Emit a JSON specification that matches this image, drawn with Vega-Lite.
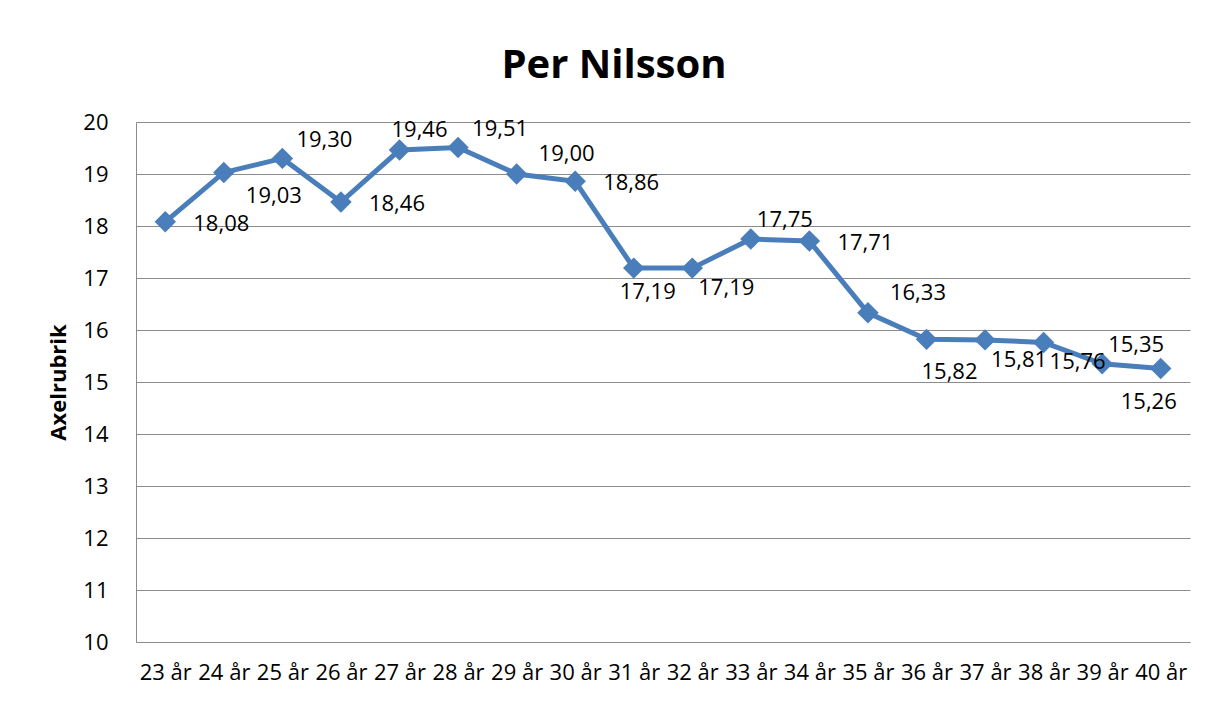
{
  "$schema": "https://vega.github.io/schema/vega-lite/v6.json",
  "width": 1054,
  "height": 520,
  "autosize": {"type": "none"},
  "padding": {"left": 136, "top": 122, "right": 18, "bottom": 60},
  "background": "white",
  "config": {
    "locale": {"number": {"decimal": ",", "thousands": " ", "grouping": [3], "currency": ["", " kr"]}},
    "view": {"stroke": null},
    "font": "Open Sans"
  },
  "title": {
    "text": "Per Nilsson",
    "font": "Open Sans",
    "fontSize": 40,
    "fontWeight": "bold",
    "color": "#000000",
    "anchor": "middle",
    "frame": "group",
    "dx": -49,
    "dy": 52,
    "baseline": "alphabetic",
    "offset": 45
  },
  "data": {
    "values": [
      {"age": "23 år", "value": 18.08},
      {"age": "24 år", "value": 19.03},
      {"age": "25 år", "value": 19.30},
      {"age": "26 år", "value": 18.46},
      {"age": "27 år", "value": 19.46},
      {"age": "28 år", "value": 19.51},
      {"age": "29 år", "value": 19.00},
      {"age": "30 år", "value": 18.86},
      {"age": "31 år", "value": 17.19},
      {"age": "32 år", "value": 17.19},
      {"age": "33 år", "value": 17.75},
      {"age": "34 år", "value": 17.71},
      {"age": "35 år", "value": 16.33},
      {"age": "36 år", "value": 15.82},
      {"age": "37 år", "value": 15.81},
      {"age": "38 år", "value": 15.76},
      {"age": "39 år", "value": 15.35},
      {"age": "40 år", "value": 15.26}
    ]
  },
  "encoding": {
    "x": {
      "field": "age",
      "type": "ordinal",
      "sort": null,
      "scale": {"type": "point", "padding": 0.5},
      "axis": {
        "title": null,
        "labelAngle": 0,
        "labelFont": "Open Sans",
        "labelFontSize": 22,
        "labelColor": "#000000",
        "ticks": false,
        "tickSize": 0,
        "domainColor": "#8c8c8c",
        "domainWidth": 1,
        "labelPadding": 20,
        "grid": false
      }
    },
    "y": {
      "field": "value",
      "type": "quantitative",
      "scale": {"domain": [10, 20], "nice": false, "zero": false},
      "axis": {
        "values": [10, 11, 12, 13, 14, 15, 16, 17, 18, 19, 20],
        "grid": true,
        "gridColor": "#8c8c8c",
        "gridWidth": 1,
        "domainColor": "#8c8c8c",
        "domainWidth": 1,
        "ticks": false,
        "tickSize": 0,
        "labelPadding": 28,
        "labelFont": "Open Sans",
        "labelFontSize": 22,
        "labelColor": "#000000",
        "title": "Axelrubrik",
        "titleFont": "Open Sans",
        "titleFontSize": 22,
        "titleFontWeight": "bold",
        "titleColor": "#000000",
        "titlePadding": 12
      }
    }
  },
  "layer": [
    {"mark": {"type": "line", "color": "#4a7ebb", "strokeWidth": 5}},
    {"mark": {"type": "point", "shape": "diamond", "filled": true, "size": 460, "color": "#4a7ebb", "opacity": 1}},
    {
      "transform": [{"filter": {"field": "age", "oneOf": ["23 år", "26 år", "30 år", "34 år"]}}],
      "mark": {"type": "text", "font": "Open Sans", "fontSize": 22, "color": "#000000", "align": "center", "baseline": "middle", "dx": 56, "dy": 2},
      "encoding": {"text": {"field": "value", "type": "quantitative", "format": ".2f"}}
    },
    {
      "transform": [{"filter": {"field": "age", "oneOf": ["25 år", "28 år"]}}],
      "mark": {"type": "text", "font": "Open Sans", "fontSize": 22, "color": "#000000", "align": "center", "baseline": "middle", "dx": 42, "dy": -18},
      "encoding": {"text": {"field": "value", "type": "quantitative", "format": ".2f"}}
    },
    {
      "transform": [{"filter": {"field": "age", "oneOf": ["29 år", "35 år"]}}],
      "mark": {"type": "text", "font": "Open Sans", "fontSize": 22, "color": "#000000", "align": "center", "baseline": "middle", "dx": 50, "dy": -20},
      "encoding": {"text": {"field": "value", "type": "quantitative", "format": ".2f"}}
    },
    {
      "transform": [{"filter": {"field": "age", "oneOf": ["27 år"]}}],
      "mark": {"type": "text", "font": "Open Sans", "fontSize": 22, "color": "#000000", "align": "center", "baseline": "middle", "dx": 20, "dy": -20},
      "encoding": {"text": {"field": "value", "type": "quantitative", "format": ".2f"}}
    },
    {
      "transform": [{"filter": {"field": "age", "oneOf": ["33 år", "39 år"]}}],
      "mark": {"type": "text", "font": "Open Sans", "fontSize": 22, "color": "#000000", "align": "center", "baseline": "middle", "dx": 34, "dy": -19},
      "encoding": {"text": {"field": "value", "type": "quantitative", "format": ".2f"}}
    },
    {
      "transform": [{"filter": {"field": "age", "oneOf": ["24 år"]}}],
      "mark": {"type": "text", "font": "Open Sans", "fontSize": 22, "color": "#000000", "align": "center", "baseline": "middle", "dx": 50, "dy": 24},
      "encoding": {"text": {"field": "value", "type": "quantitative", "format": ".2f"}}
    },
    {
      "transform": [{"filter": {"field": "age", "oneOf": ["32 år", "37 år", "38 år"]}}],
      "mark": {"type": "text", "font": "Open Sans", "fontSize": 22, "color": "#000000", "align": "center", "baseline": "middle", "dx": 34, "dy": 20},
      "encoding": {"text": {"field": "value", "type": "quantitative", "format": ".2f"}}
    },
    {
      "transform": [{"filter": {"field": "age", "oneOf": ["31 år"]}}],
      "mark": {"type": "text", "font": "Open Sans", "fontSize": 22, "color": "#000000", "align": "center", "baseline": "middle", "dx": 14, "dy": 24},
      "encoding": {"text": {"field": "value", "type": "quantitative", "format": ".2f"}}
    },
    {
      "transform": [{"filter": {"field": "age", "oneOf": ["36 år"]}}],
      "mark": {"type": "text", "font": "Open Sans", "fontSize": 22, "color": "#000000", "align": "center", "baseline": "middle", "dx": 23, "dy": 33},
      "encoding": {"text": {"field": "value", "type": "quantitative", "format": ".2f"}}
    },
    {
      "transform": [{"filter": {"field": "age", "oneOf": ["40 år"]}}],
      "mark": {"type": "text", "font": "Open Sans", "fontSize": 22, "color": "#000000", "align": "center", "baseline": "middle", "dx": -12, "dy": 34},
      "encoding": {"text": {"field": "value", "type": "quantitative", "format": ".2f"}}
    }
  ]
}
